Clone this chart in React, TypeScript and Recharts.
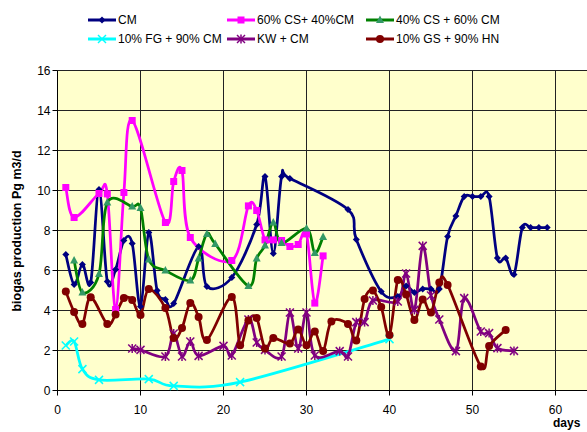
import { LineChart, Line, XAxis, YAxis, CartesianGrid } from 'recharts';

const cmDays = [1, 2, 3, 4, 5, 6, 7, 8, 9, 10, 11, 12, 13, 14, 17, 18, 21, 24, 25, 26, 27, 28, 35, 36, 39, 41, 42, 43, 44, 45, 46, 47, 48, 49, 50, 51, 52, 53, 54, 55, 56, 57, 58, 59];
const cmValues = [6.8, 5.3, 6.3, 5.4, 10.05, 5.45, 6.05, 7.5, 7.35, 4.2, 7.9, 5.0, 4.55, 4.35, 7.2, 5.2, 5.65, 8.3, 10.7, 6.85, 10.7, 10.6, 9.05, 7.55, 4.95, 4.7, 5.23, 4.9, 5.08, 5.08, 5.07, 7.7, 8.73, 9.7, 9.7, 9.7, 9.7, 6.62, 6.62, 5.8, 8.15, 8.15, 8.15, 8.15];

const cs60Days = [1, 2, 5, 6, 7, 8, 9, 13, 14, 15, 16, 21, 23, 24, 25, 26, 27, 28, 29, 30, 31, 32];
const cs60Values = [10.15, 8.65, 9.85, 9.83, 4.05, 9.9, 13.5, 8.4, 10.45, 11.0, 7.65, 6.5, 9.23, 9.0, 7.53, 7.53, 7.5, 7.2, 7.3, 7.83, 4.37, 6.73];

const cs40Days = [2, 3, 5, 6, 9, 10, 11, 13, 16, 17, 18, 19, 23, 24, 25, 26, 27, 30, 31, 32];
const cs40Values = [6.5, 4.9, 5.82, 9.4, 9.2, 9.12, 6.55, 6.0, 5.5, 6.6, 7.83, 7.33, 5.23, 6.6, 7.25, 8.4, 7.37, 8.1, 6.88, 7.68];

const fgDays = [1, 2, 3, 5, 11, 14, 22, 40];
const fgValues = [2.25, 2.45, 1.07, 0.53, 0.57, 0.23, 0.42, 2.57];

const kwDays = [9, 10, 13, 14, 15, 16, 17, 20, 21, 23, 24, 25, 27, 28, 29, 30, 31, 34, 35, 36, 37, 38, 41, 42, 43, 44, 45, 46, 48, 49, 51, 52, 53, 55];
const kwValues = [2.1, 2.03, 1.7, 2.85, 1.7, 2.45, 1.73, 2.23, 1.75, 3.55, 2.4, 2.03, 1.7, 3.9, 2.1, 3.9, 1.75, 1.97, 1.7, 3.42, 3.42, 4.5, 4.45, 5.85, 4.03, 7.23, 4.75, 3.55, 1.97, 4.62, 2.95, 2.87, 2.12, 1.98];

const gsDays = [1, 2, 3, 4, 6, 7, 8, 9, 10, 11, 13, 14, 15, 16, 17, 18, 21, 22, 23, 24, 25, 26, 28, 29, 30, 31, 32, 33, 35, 36, 37, 38, 39, 40, 41, 42, 43, 44, 45, 46, 47, 51, 52, 54];
const gsValues = [4.95, 3.93, 3.32, 4.66, 3.32, 3.8, 4.62, 4.53, 3.78, 5.07, 4.12, 2.62, 3.12, 4.38, 3.68, 2.52, 4.68, 2.26, 3.5, 3.62, 2.1, 2.62, 2.35, 3.05, 2.26, 2.95, 1.98, 3.45, 3.33, 2.5, 4.57, 5.0, 4.17, 2.78, 5.53, 4.8, 3.53, 4.55, 3.9, 5.4, 5.28, 1.2, 2.23, 3.03];

const xTicks = [0, 10, 20, 30, 40, 50, 60];
const xGrid = [0, 10, 20, 30, 40, 50, 60, 70];
const yTicks = [0, 2, 4, 6, 8, 10, 12, 14, 16];

const toRows = (days: number[], values: number[]) => days.map((day, i) => ({ day, value: values[i] }));

// Excel-style smoothed line (Catmull-Rom through the points)
function excelSmooth(context: any) {
  let pts: number[][] = [];
  return {
    areaStart() {},
    areaEnd() {},
    lineStart() {
      pts = [];
    },
    point(x: number, y: number) {
      pts.push([+x, +y]);
    },
    lineEnd() {
      const n = pts.length;
      if (!n) return;
      context.moveTo(pts[0][0], pts[0][1]);
      for (let i = 0; i < n - 1; i++) {
        const p0 = pts[i - 1] || pts[i];
        const p1 = pts[i];
        const p2 = pts[i + 1];
        const p3 = pts[i + 2] || p2;
        context.bezierCurveTo(
          p1[0] + (p2[0] - p0[0]) / 6,
          p1[1] + (p2[1] - p0[1]) / 6,
          p2[0] - (p3[0] - p1[0]) / 6,
          p2[1] - (p3[1] - p1[1]) / 6,
          p2[0],
          p2[1],
        );
      }
    },
  };
}

type Mark = 'diamond' | 'square' | 'triangle' | 'x' | 'star' | 'circle';

function Marker({ kind, cx, cy, color }: { kind: Mark; cx: number; cy: number; color: string }) {
  switch (kind) {
    case 'diamond':
      return <polygon points={`${cx},${cy - 3.5} ${cx + 3.5},${cy} ${cx},${cy + 3.5} ${cx - 3.5},${cy}`} fill={color} />;
    case 'square':
      return <rect x={cx - 3.5} y={cy - 3.5} width={7} height={7} fill={color} />;
    case 'triangle':
      return <polygon points={`${cx},${cy - 4.5} ${cx + 4},${cy + 3} ${cx - 4},${cy + 3}`} fill={color} />;
    case 'x':
      return (
        <g stroke={color} strokeWidth={1.5}>
          <line x1={cx - 4} y1={cy - 4} x2={cx + 4} y2={cy + 4} />
          <line x1={cx - 4} y1={cy + 4} x2={cx + 4} y2={cy - 4} />
        </g>
      );
    case 'star':
      return (
        <g stroke={color} strokeWidth={1.5}>
          <line x1={cx - 4} y1={cy - 4} x2={cx + 4} y2={cy + 4} />
          <line x1={cx - 4} y1={cy + 4} x2={cx + 4} y2={cy - 4} />
          <line x1={cx} y1={cy - 4.5} x2={cx} y2={cy + 4.5} />
        </g>
      );
    default:
      return <circle cx={cx} cy={cy} r={4} fill={color} />;
  }
}

const series = [
  { name: 'CM', days: cmDays, values: cmValues, color: '#000080', markColor: '#000080', mark: 'diamond' as Mark },
  { name: '60% CS+ 40%CM', days: cs60Days, values: cs60Values, color: '#FF00FF', markColor: '#FF00FF', mark: 'square' as Mark },
  { name: '40% CS + 60% CM', days: cs40Days, values: cs40Values, color: '#008000', markColor: '#339966', mark: 'triangle' as Mark },
  { name: '10% FG + 90% CM', days: fgDays, values: fgValues, color: '#00FFFF', markColor: '#00FFFF', mark: 'x' as Mark },
  { name: 'KW + CM', days: kwDays, values: kwValues, color: '#800080', markColor: '#800080', mark: 'star' as Mark },
  { name: '10% GS + 90% HN', days: gsDays, values: gsValues, color: '#800000', markColor: '#800000', mark: 'circle' as Mark },
];

const legendPos = [
  { x: 88, y: 20 },
  { x: 227, y: 20 },
  { x: 366, y: 20 },
  { x: 88, y: 39 },
  { x: 227, y: 39 },
  { x: 366, y: 39 },
];

const font = 'Arial, "Liberation Sans", sans-serif';

export default function App() {
  return (
    <div style={{ position: 'absolute', left: 0, top: 0, width: 587, height: 432, overflow: 'hidden', background: '#fff', fontFamily: font }}>
      <svg width={587} height={60} style={{ position: 'absolute', left: 0, top: 0 }}>
        {series.map((s, i) => {
          const p = legendPos[i];
          return (
            <g key={s.name}>
              <line x1={p.x} y1={p.y} x2={p.x + 28} y2={p.y} stroke={s.color} strokeWidth={3} />
              <Marker kind={s.mark} cx={p.x + 14} cy={p.y} color={s.markColor} />
              <text x={p.x + 30} y={p.y + 4.2} fontSize={12} fontFamily={font} fill="#000">
                {s.name}
              </text>
            </g>
          );
        })}
      </svg>
      <LineChart width={660} height={432} margin={{ top: 70.5, right: 21.5, left: 7.5, bottom: 11.5 }}>
        <CartesianGrid fill="#FFFFCC" stroke="#222" strokeWidth={1} horizontalValues={yTicks} verticalValues={xGrid} />
        <XAxis
          type="number"
          dataKey="day"
          domain={[0, 70]}
          ticks={xTicks}
          allowDataOverflow
          tick={{ fill: '#000', fontSize: 12, fontFamily: font }}
          tickLine={{ stroke: '#000' }}
          axisLine={{ stroke: '#000' }}
          tickSize={5}
          tickMargin={10}
          height={30}
        />
        <YAxis
          type="number"
          domain={[0, 16]}
          ticks={yTicks}
          tick={{ fill: '#000', fontSize: 12, fontFamily: font }}
          tickLine={{ stroke: '#000' }}
          axisLine={{ stroke: '#000' }}
          tickSize={5}
          width={50}
        />
        {series.map((s) => (
          <Line
            key={s.name}
            data={toRows(s.days, s.values)}
            dataKey="value"
            name={s.name}
            type={excelSmooth as any}
            stroke={s.color}
            strokeWidth={2.75}
            dot={(props: any) => <Marker key={`${s.name}-${props.index}`} kind={s.mark} cx={props.cx} cy={props.cy} color={s.markColor} />}
            activeDot={false}
            isAnimationActive={false}
          />
        ))}
      </LineChart>
      <div
        style={{
          position: 'absolute',
          left: 17,
          top: 230.5,
          transform: 'translate(-50%, -50%) rotate(-90deg)',
          whiteSpace: 'nowrap',
          fontSize: 12.5,
          fontWeight: 'bold',
        }}
      >
        biogas production Pg m3/d
      </div>
      <div style={{ position: 'absolute', left: 553, top: 416, fontSize: 12, fontWeight: 'bold', whiteSpace: 'nowrap' }}>days</div>
    </div>
  );
}
